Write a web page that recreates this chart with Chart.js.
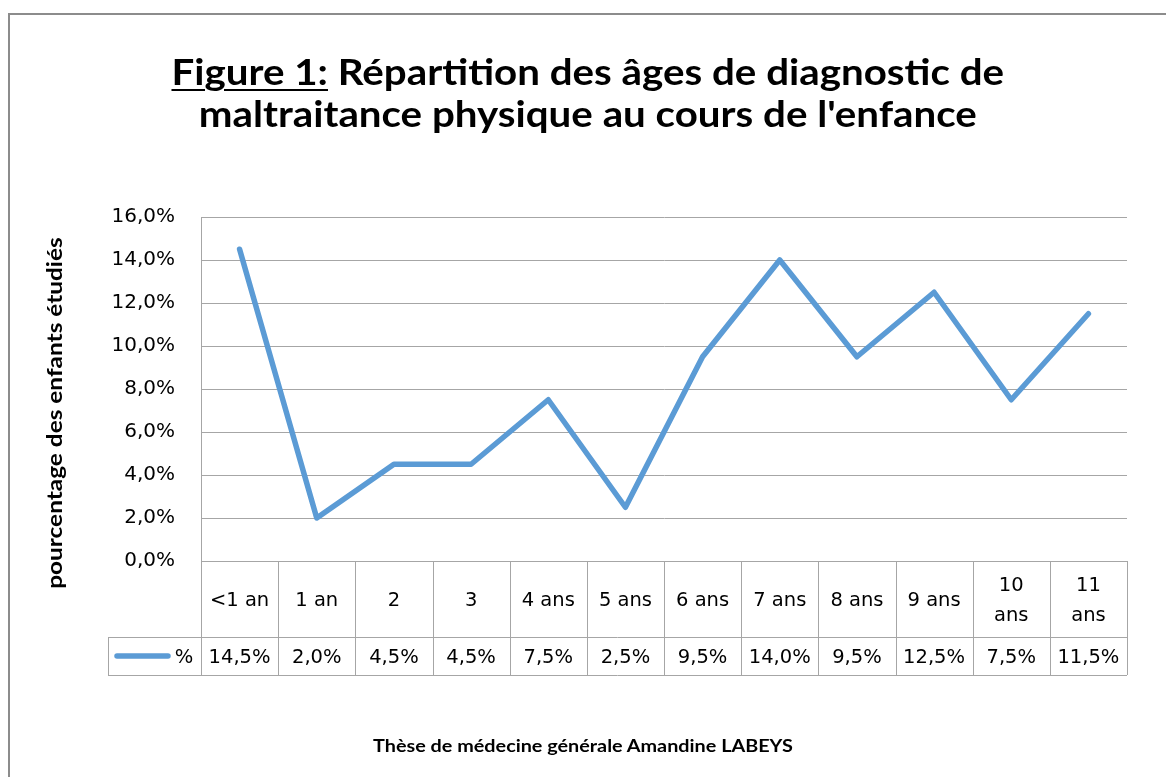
<!DOCTYPE html>
<html>
<head>
<meta charset="utf-8">
<script src="https://cdn.jsdelivr.net/npm/chart.js@4.4.0/dist/chart.umd.min.js"></script>
<style>
  body { margin: 0; background: #fff; }
  #wrap { position: relative; width: 1166px; height: 777px; overflow: hidden; font-family: Lato, "Noto Sans", sans-serif; }
  #frame { position: absolute; left: 8px; top: 13px; width: 1200px; height: 800px; border-left: 2px solid #8c8c8c; border-top: 2px solid #8c8c8c; }
  #titre { position: absolute; left: 0; width: 1176px; top: 51px; text-align: center; }
  #titre span { display: inline-block; transform: scaleX(1.135); font-weight: bold; font-size: 35.5px; line-height: 42px; color: #000; }
  #titre u { text-decoration-thickness: 2px; text-underline-offset: 4px; }
  #pied { position: absolute; left: 0; width: 1166px; top: 736px; text-align: center; }
  #pied span { display: inline-block; transform: scaleX(1.2); font-weight: bold; font-size: 16.5px; color: #000; }
  canvas { position: absolute; left: 0; top: 0; }
</style>
</head>
<body>
<div id="wrap">
  <div id="frame"></div>
  <canvas id="myChart" width="1166" height="777"></canvas>
  <div id="titre"><span><u>Figure 1:</u> Répartition des âges de diagnostic de<br>maltraitance physique au cours de l'enfance</span></div>
  <div id="pied"><span>Thèse de médecine générale Amandine LABEYS</span></div>
</div>
<script>
// données
const ages = ['<1 an', '1 an', '2', '3', '4 ans', '5 ans', '6 ans', '7 ans', '8 ans', '9 ans', '10 ans', '11 ans'];
const etiquettesAges = [['<1 an'], ['1 an'], ['2'], ['3'], ['4 ans'], ['5 ans'], ['6 ans'], ['7 ans'], ['8 ans'], ['9 ans'], ['10', 'ans'], ['11', 'ans']];
const pourcentages = [14.5, 2.0, 4.5, 4.5, 7.5, 2.5, 9.5, 14.0, 9.5, 12.5, 7.5, 11.5];
const nomSerie = '%';
const titreAxeY = 'pourcentage des enfants étudiés';

const bleu = '#5B9BD5';
const gris = '#A6A6A6';
const police = '"DejaVu Sans", sans-serif';
const policeGras = 'Lato, "Noto Sans", sans-serif';

function formatPct(v) {
  return v.toFixed(1).replace('.', ',') + '%';
}

// tableau de données sous le graphique + titre de l'axe
const tableauDonnees = {
  id: 'tableauDonnees',
  afterDraw(chart) {
    const ctx = chart.ctx;
    const x = chart.scales.x;
    const area = chart.chartArea;
    const larg = (area.right - area.left) / ages.length;
    const yHaut = area.bottom;
    const yMil = area.bottom + 76;
    const yBas = area.bottom + 114;
    const gauche = 108;

    ctx.save();
    ctx.strokeStyle = gris;
    ctx.lineWidth = 1;
    ctx.beginPath();
    for (let k = 0; k <= ages.length; k++) {
      const xx = Math.round(area.left + k * larg) + 0.5;
      ctx.moveTo(xx, yHaut);
      ctx.lineTo(xx, yBas);
    }
    ctx.moveTo(gauche + 0.5, yMil);
    ctx.lineTo(gauche + 0.5, yBas);
    ctx.moveTo(gauche, yMil + 0.5);
    ctx.lineTo(area.right, yMil + 0.5);
    ctx.moveTo(gauche, yBas + 0.5);
    ctx.lineTo(area.right, yBas + 0.5);
    ctx.stroke();

    ctx.fillStyle = '#000';
    ctx.font = '19.5px ' + police;
    ctx.textAlign = 'center';
    ctx.textBaseline = 'middle';
    const yCat = (yHaut + yMil) / 2 + 2;
    const yVal = (yMil + yBas) / 2 + 1.5;
    etiquettesAges.forEach((lignes, i) => {
      const cx = x.getPixelForValue(i);
      if (lignes.length === 1) {
        ctx.fillText(lignes[0], cx, yCat);
      } else {
        ctx.fillText(lignes[0], cx, yCat - 15);
        ctx.fillText(lignes[1], cx, yCat + 15);
      }
      ctx.fillText(formatPct(pourcentages[i]), cx, yVal);
    });

    // légende dans le tableau
    const yl = (yMil + yBas) / 2;
    ctx.strokeStyle = bleu;
    ctx.lineWidth = 5.5;
    ctx.lineCap = 'round';
    ctx.beginPath();
    ctx.moveTo(117, yl);
    ctx.lineTo(168, yl);
    ctx.stroke();
    ctx.fillText(nomSerie, 184, yVal);

    // titre de l'axe vertical
    ctx.translate(55, 413);
    ctx.rotate(-Math.PI / 2);
    ctx.scale(1.19, 1);
    ctx.font = 'bold 20.5px ' + policeGras;
    ctx.fillText(titreAxeY, 0, 0);
    ctx.restore();
  }
};

const data = {
  labels: ages,
  datasets: [{
    label: nomSerie,
    data: pourcentages,
    borderColor: bleu,
    backgroundColor: bleu,
    borderWidth: 5.5,
    borderCapStyle: 'round',
    borderJoinStyle: 'round',
    pointRadius: 0,
    tension: 0
  }]
};

const config = {
  type: 'line',
  data: data,
  options: {
    responsive: false,
    animation: false,
    layout: { padding: { top: 217, left: 30, right: 39, bottom: 216 } },
    plugins: {
      legend: { display: false },
      tooltip: { enabled: false }
    },
    scales: {
      x: {
        type: 'category',
        offset: true,
        display: false
      },
      y: {
        min: 0,
        max: 16,
        ticks: {
          stepSize: 2,
          padding: 26,
          color: '#000',
          font: { family: police, size: 20 },
          callback: (v) => formatPct(v)
        },
        grid: { color: gris, lineWidth: 1, drawTicks: false },
        border: { display: true, color: gris },
        afterFit: (scale) => { scale.width = 171; }
      }
    }
  },
  plugins: [tableauDonnees]
};

const myChart = new Chart(document.getElementById('myChart'), config);
</script>
</body>
</html>
